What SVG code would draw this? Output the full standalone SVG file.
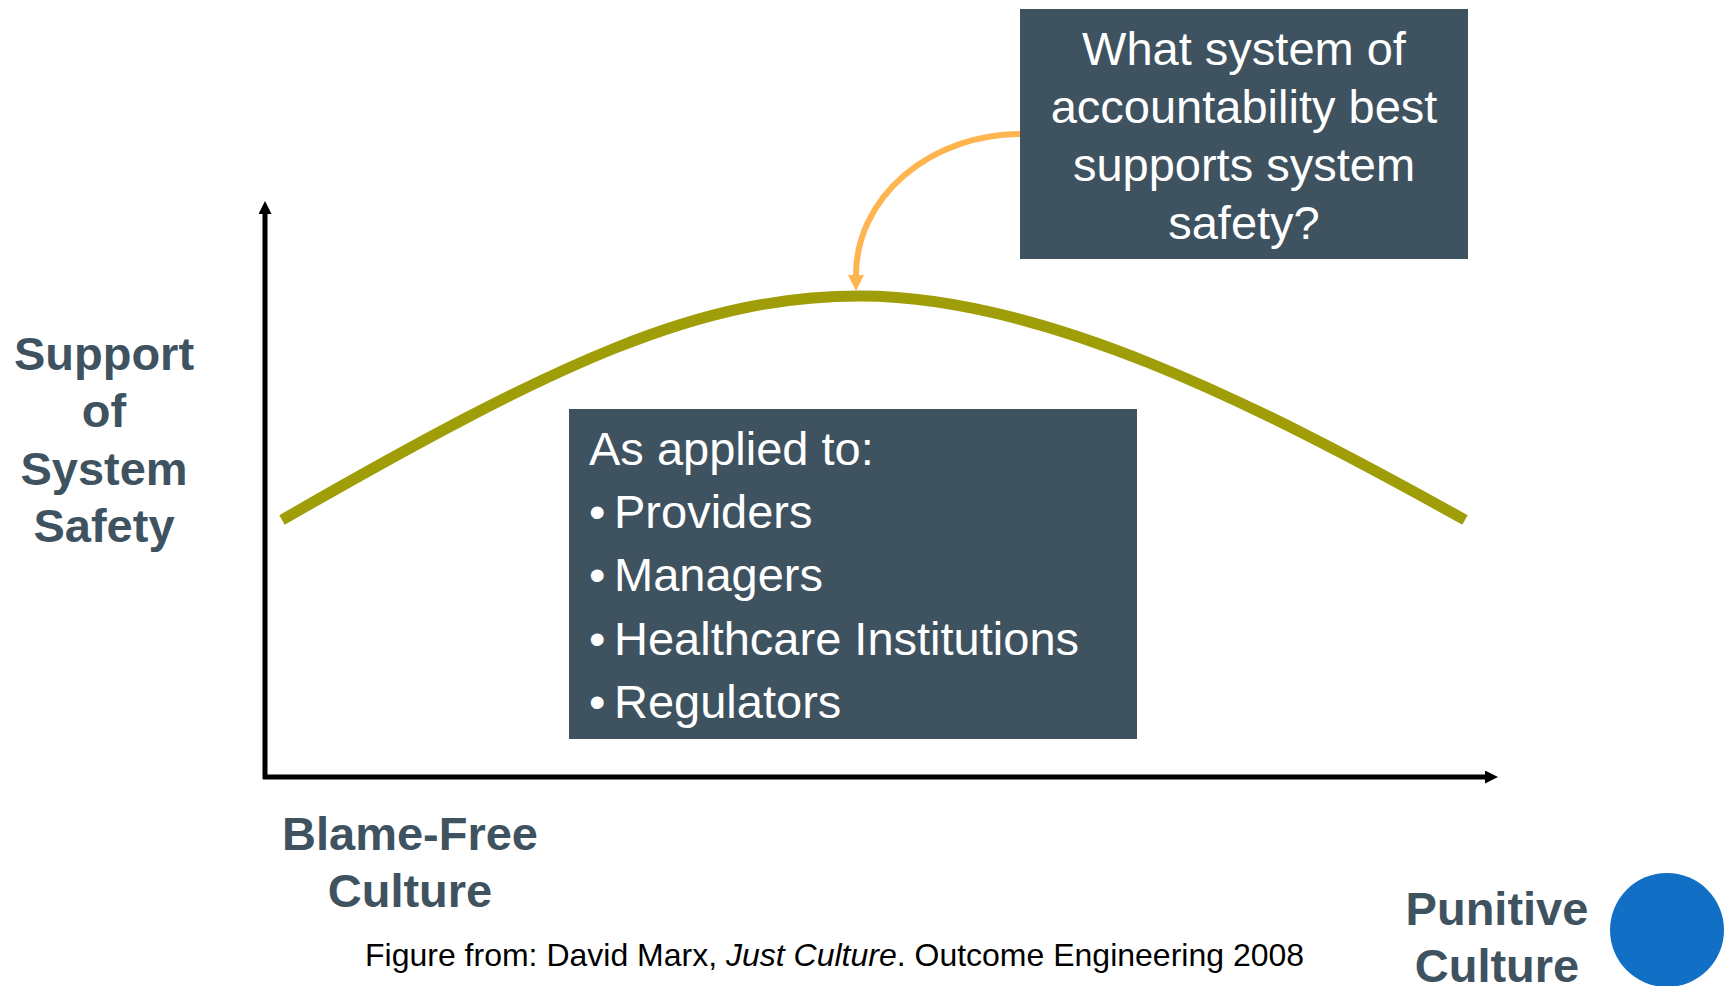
<svg xmlns="http://www.w3.org/2000/svg" width="1732" height="986" viewBox="0 0 1732 986">
<style>
.box{fill:#3E5260}
.wt{fill:#FFFFFF;font-family:"Liberation Sans",Arial,sans-serif;font-size:47px}
.lbl{fill:#3E5260;font-family:"Liberation Sans",Arial,sans-serif;font-size:47px;font-weight:bold;text-anchor:middle}
.cap{fill:#000000;font-family:"Liberation Sans",Arial,sans-serif;font-size:32px}
.axis{stroke:#000000;stroke-width:5;fill:none}
</style>
<defs>
<marker id="ah" markerUnits="userSpaceOnUse" markerWidth="13" markerHeight="13" viewBox="0 0 12 12" refX="0" refY="6" orient="auto">
<path d="M0,0 L12,6 L0,12 z" fill="#000000"/>
</marker>
<marker id="oh" markerUnits="userSpaceOnUse" markerWidth="16" markerHeight="16" viewBox="0 0 15 15" refX="0" refY="7.5" orient="auto">
<path d="M0,0 L15,7.5 L0,15 z" fill="#FFB54F"/>
</marker>
</defs>
<rect width="1732" height="986" fill="#FFFFFF"/>
<g id="connectors">
<path class="axis" d="M265,779 L265,214" marker-end="url(#ah)"/>
<path class="axis" d="M263,777 L1485,777" marker-end="url(#ah)"/>
<path id="curve" d="M282,520 C560,360 700,296 860,296 C1040,296 1250,400 1465,520" fill="none" stroke="#A09E08" stroke-width="11"/>
<path d="M1021,134 A165,141 0 0 0 856,275" fill="none" stroke="#FFB54F" stroke-width="6" marker-end="url(#oh)"/>
</g>
<g id="question">
<rect class="box" x="1020" y="9" width="448" height="250"/>
<text class="wt" text-anchor="middle" x="1244" y="65">What system of</text>
<text class="wt" text-anchor="middle" x="1244" y="123">accountability best</text>
<text class="wt" text-anchor="middle" x="1244" y="181">supports system</text>
<text class="wt" text-anchor="middle" x="1244" y="239">safety?</text>
</g>
<g id="applied">
<rect class="box" x="569" y="409" width="568" height="330"/>
<text class="wt" x="589" y="465">As applied to:</text>
<text class="wt" x="589" y="528">•</text><text class="wt" x="614" y="528">Providers</text>
<text class="wt" x="589" y="591">•</text><text class="wt" x="614" y="591">Managers</text>
<text class="wt" x="589" y="655">•</text><text class="wt" x="614" y="655">Healthcare Institutions</text>
<text class="wt" x="589" y="718">•</text><text class="wt" x="614" y="718">Regulators</text>
</g>
<g id="y-label">
<text class="lbl" x="104" y="370">Support</text>
<text class="lbl" x="104" y="427">of</text>
<text class="lbl" x="104" y="485">System</text>
<text class="lbl" x="104" y="542">Safety</text>
</g>
<g id="blame-free">
<text class="lbl" x="410" y="850">Blame-Free</text>
<text class="lbl" x="410" y="907">Culture</text>
</g>
<g id="punitive">
<text class="lbl" x="1497" y="925">Punitive</text>
<text class="lbl" x="1497" y="982">Culture</text>
<circle cx="1667" cy="930" r="57" fill="#1170C6"/>
</g>
<g id="caption">
<text class="cap" x="365" y="966">Figure from: David Marx, <tspan font-style="italic">Just Culture</tspan>. Outcome Engineering 2008</text>
</g>
</svg>
